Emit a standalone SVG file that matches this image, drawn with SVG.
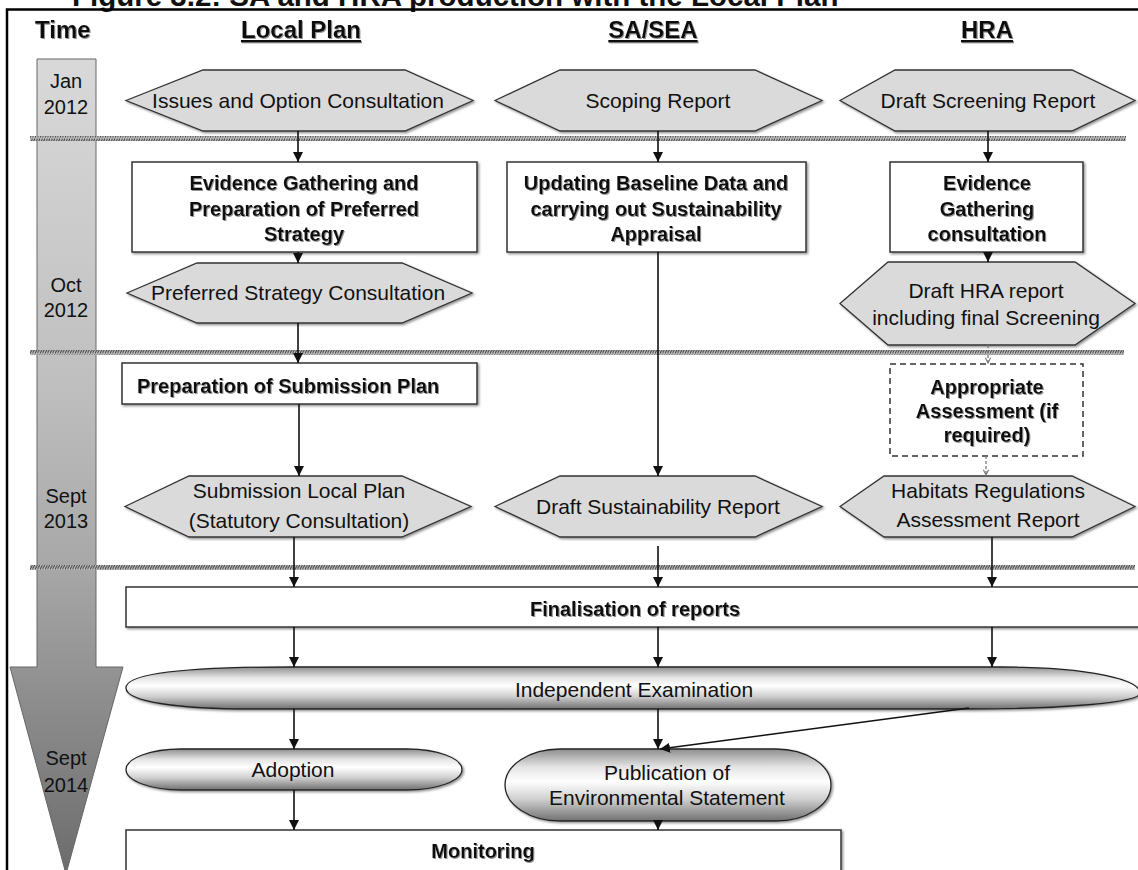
<svg xmlns="http://www.w3.org/2000/svg" width="1138" height="870" viewBox="0 0 1138 870">
<defs>
<style>
text{font-family:"Liberation Sans",Arial,sans-serif;fill:#111;}
.hdr{font-size:24px;font-weight:bold;text-anchor:middle;filter:url(#tsh);}
.b{font-size:20px;font-weight:bold;text-anchor:middle;filter:url(#tsh);}
.r{font-size:21px;text-anchor:middle;}
.t{font-size:20px;text-anchor:middle;}
.hex{fill:#dadada;stroke:#333;stroke-width:1.3;filter:url(#sh);}
.box{fill:#fff;stroke:#333;stroke-width:1.5;filter:url(#sh);}
.dbox{fill:#fff;stroke:#333;stroke-width:1.5;stroke-dasharray:6 4;}
.pill{fill:url(#pg);stroke:#222;stroke-width:1.3;filter:url(#sh);}
.con{fill:none;stroke:#111;stroke-width:1.6;marker-end:url(#ar);}
.dcon{fill:none;stroke:#777;stroke-width:1.3;stroke-dasharray:3 2;marker-end:url(#dar);}
</style>
<filter id="sh" x="-5%" y="-10%" width="110%" height="130%">
<feDropShadow dx="1.5" dy="1.5" stdDeviation="0.8" flood-color="#777" flood-opacity="0.8"/>
</filter>
<filter id="tsh" x="-5%" y="-20%" width="110%" height="150%">
<feDropShadow dx="1" dy="1" stdDeviation="0.6" flood-color="#888" flood-opacity="0.9"/>
</filter>
<linearGradient id="tl" gradientUnits="userSpaceOnUse" x1="0" y1="59" x2="0" y2="872">
<stop offset="0" stop-color="#d9d9d9"/>
<stop offset="0.4" stop-color="#bfbfbf"/>
<stop offset="0.62" stop-color="#a8a8a8"/>
<stop offset="1" stop-color="#6c6c6c"/>
</linearGradient>
<linearGradient id="pg" x1="0" y1="0" x2="0" y2="1">
<stop offset="0" stop-color="#8e8e8e"/>
<stop offset="0.25" stop-color="#e4e4e4"/>
<stop offset="0.45" stop-color="#ffffff"/>
<stop offset="0.7" stop-color="#cfcfcf"/>
<stop offset="1" stop-color="#707070"/>
</linearGradient>
<pattern id="hatch" patternUnits="userSpaceOnUse" width="2.5" height="6">
<rect width="2.5" height="6" fill="#bdbdbd"/>
<path d="M-1,7 L3.5,-1" stroke="#3a3a3a" stroke-width="1"/>
</pattern>
<marker id="ar" viewBox="0 0 10 10" refX="10" refY="5" markerWidth="10" markerHeight="10" markerUnits="userSpaceOnUse" orient="auto">
<path d="M0,0 L10,5 L0,10 Z" fill="#111"/>
</marker>
<marker id="dar" viewBox="0 0 8 8" refX="7" refY="4" markerWidth="7" markerHeight="7" markerUnits="userSpaceOnUse" orient="auto">
<path d="M1,1 L7,4 L1,7" fill="none" stroke="#777" stroke-width="1.2"/>
</marker>
</defs>

<rect width="1138" height="870" fill="#fff"/>

<text x="72" y="6" style="font-size:29.5px;font-weight:bold;">Figure 3.2: SA and HRA production with the Local Plan</text>
<rect x="7" y="9.5" width="1140" height="880" fill="none" stroke="#000" stroke-width="2.5"/>

<g id="headers">
<text class="hdr" x="35" y="38" style="text-anchor:start">Time</text>
<text class="hdr" x="301" y="38" text-decoration="underline">Local Plan</text>
<text class="hdr" x="653" y="38" text-decoration="underline">SA/SEA</text>
<text class="hdr" x="987" y="38" text-decoration="underline">HRA</text>
</g>

<g id="timeline">
<path d="M37,59 H96 V667 H123 L66,874 L10,667 H37 Z" fill="url(#tl)" stroke="#666" stroke-width="1"/>
<text class="t" x="66" y="88">Jan</text>
<text class="t" x="66" y="114">2012</text>
<text class="t" x="66" y="292">Oct</text>
<text class="t" x="66" y="317">2012</text>
<text class="t" x="66" y="503">Sept</text>
<text class="t" x="66" y="528">2013</text>
<text class="t" x="66" y="765">Sept</text>
<text class="t" x="66" y="792">2014</text>
</g>

<g id="separators">
<rect x="30" y="136" width="1096" height="5" fill="url(#hatch)"/>
<rect x="30" y="350" width="1094" height="5" fill="url(#hatch)"/>
<rect x="30" y="565" width="1105" height="5" fill="url(#hatch)"/>
</g>

<g id="n-issues">
<polygon class="hex" points="126,100.5 203,70 405,70 473,100.5 405,131 203,131"/>
<text class="r" x="298" y="108">Issues and Option Consultation</text>
</g>
<g id="n-scoping">
<polygon class="hex" points="495,100.5 560,70 755,70 822,100.5 755,131 560,131"/>
<text class="r" x="658" y="108">Scoping Report</text>
</g>
<g id="n-draftscreening">
<polygon class="hex" points="840,100.5 895,70 1072,70 1135,100.5 1072,131 895,131"/>
<text class="r" x="988" y="108">Draft Screening Report</text>
</g>

<g id="n-evidence-lp">
<rect class="box" x="132" y="162" width="345" height="90"/>
<text class="b" x="304" y="190">Evidence Gathering and</text>
<text class="b" x="304" y="216">Preparation of Preferred</text>
<text class="b" x="304" y="241">Strategy</text>
</g>
<g id="n-updating">
<rect class="box" x="507" y="162" width="299" height="90"/>
<text class="b" x="656" y="190">Updating Baseline Data and</text>
<text class="b" x="656" y="216">carrying out Sustainability</text>
<text class="b" x="656" y="241">Appraisal</text>
</g>
<g id="n-evidence-hra">
<rect class="box" x="890" y="162" width="193" height="90"/>
<text class="b" x="987" y="190">Evidence</text>
<text class="b" x="987" y="216">Gathering</text>
<text class="b" x="987" y="241">consultation</text>
</g>

<g id="n-preferred">
<polygon class="hex" points="127,293 197,263 402,263 472,293 402,323 197,323"/>
<text class="r" x="298" y="300">Preferred Strategy Consultation</text>
</g>
<g id="n-drafthra">
<polygon class="hex" points="840,303.5 888,262 1075,262 1135,303.5 1075,345 888,345"/>
<text class="r" x="986" y="298">Draft HRA report</text>
<text class="r" x="986" y="325">including final Screening</text>
</g>

<g id="n-prepsub">
<rect class="box" x="122" y="363" width="355" height="41"/>
<text class="b" x="137" y="393" style="text-anchor:start">Preparation of Submission Plan</text>
</g>
<g id="n-appropriate">
<rect class="dbox" x="890" y="364" width="193" height="92"/>
<text class="b" x="987" y="394">Appropriate</text>
<text class="b" x="987" y="418">Assessment (if</text>
<text class="b" x="987" y="442">required)</text>
</g>

<g id="n-sublp">
<polygon class="hex" points="125,506.5 189,476 402,476 471,506.5 402,537 189,537"/>
<text class="r" x="299" y="498">Submission Local Plan</text>
<text class="r" x="299" y="528">(Statutory Consultation)</text>
</g>
<g id="n-draftsust">
<polygon class="hex" points="495,506.5 560,476 755,476 822,506.5 755,537 560,537"/>
<text class="r" x="658" y="514">Draft Sustainability Report</text>
</g>
<g id="n-habitats">
<polygon class="hex" points="840,506.5 884,476 1072,476 1135,506.5 1072,537 884,537"/>
<text class="r" x="988" y="498">Habitats Regulations</text>
<text class="r" x="988" y="527">Assessment Report</text>
</g>

<g id="n-finalisation">
<rect class="box" x="126" y="587" width="1020" height="40"/>
<text class="b" x="635" y="616">Finalisation of reports</text>
</g>

<g id="n-examination">
<path class="pill" d="M126,688 C126,672 200,667 290,667 L1003,667 C1090,667 1140,680 1140,693 C1140,703 1060,709 970,709 L250,709 C180,709 126,702 126,688 Z"/>
<text class="r" x="634" y="697">Independent Examination</text>
</g>

<g id="n-adoption">
<rect class="pill" x="126" y="749" width="336" height="41" rx="55" ry="20.5"/>
<text class="r" x="293" y="777">Adoption</text>
</g>
<g id="n-publication">
<rect class="pill" x="505" y="749" width="326" height="72" rx="55" ry="36"/>
<text class="r" x="667" y="780">Publication of</text>
<text class="r" x="667" y="805">Environmental Statement</text>
</g>

<g id="n-monitoring">
<rect class="box" x="126" y="830" width="715" height="50"/>
<text class="b" x="483" y="858">Monitoring</text>
</g>

<g id="connectors">
<path class="con" d="M298,131 V162"/>
<path class="con" d="M298,252 V263"/>
<path class="con" d="M298,323 V363"/>
<path class="con" d="M299,404 V476"/>
<path class="con" d="M294,537 V587"/>
<path class="con" d="M294,627 V667"/>
<path class="con" d="M294,709 V749"/>
<path class="con" d="M294,790 V830"/>
<path class="con" d="M658,131 V162"/>
<path class="con" d="M658,252 V476"/>
<path class="con" d="M658,546 V587"/>
<path class="con" d="M658,627 V667"/>
<path class="con" d="M658,709 V749"/>
<path class="con" d="M658,821 V830"/>
<path class="con" d="M969,708 L660,749"/>
<path class="con" d="M988,131 V162"/>
<path class="con" d="M988,252 V262"/>
<path class="dcon" d="M988,345 V363"/>
<path class="dcon" d="M986,456 V475"/>
<path class="con" d="M992,537 V587"/>
<path class="con" d="M992,627 V667"/>
</g>
</svg>
